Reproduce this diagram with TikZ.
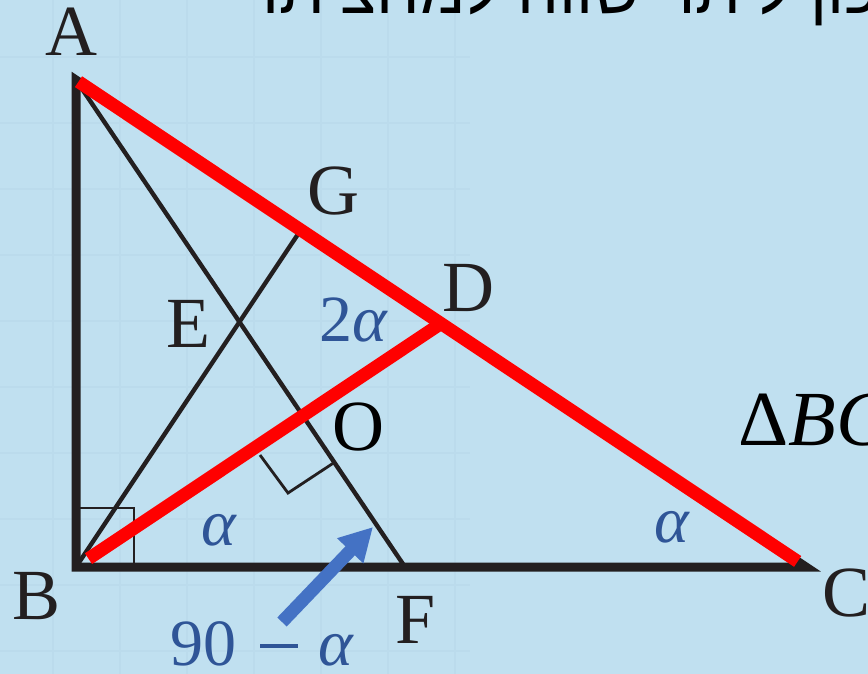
\RequirePackage{fix-cm}
\documentclass[tikz,border=0pt]{standalone}
\usepackage{fontspec}
\setmainfont{Liberation Serif}
\newfontfamily\hebfont[Script=Hebrew]{Liberation Sans}
\TeXXeTstate=1
\usetikzlibrary{arrows.meta,calc}
\definecolor{bgblue}{RGB}{192,224,240}
\definecolor{gridc}{RGB}{187,219,236}
\definecolor{inkc}{RGB}{35,31,32}
\definecolor{redc}{RGB}{255,0,0}
\definecolor{labblue}{RGB}{47,85,151}
\definecolor{arrblue}{RGB}{68,114,196}
\tikzset{
  thickline/.style={draw=inkc,line width=9pt,line join=miter},
  thinline/.style={draw=inkc,line width=4.4pt},
  markline/.style={draw=inkc,line width=2.8pt},
  redline/.style={draw=redc,line width=13pt},
  ptlabel/.style={inner sep=0pt,text=inkc,font=\fontsize{72}{80}\selectfont},
  anglab/.style={inner sep=0pt,text=labblue,font=\fontsize{66}{72}\selectfont},
  gridline/.style={draw=gridc,line width=1.6pt},
}
\begin{document}
\begin{tikzpicture}[x=1pt,y=-1pt]
\useasboundingbox (0,0) rectangle (868,674);
\clip (0,0) rectangle (868,674);
\fill[bgblue] (0,0) rectangle (868,674);
% faint grid on the left part
\foreach \gx in {53,120,187,254,321,388,455}
  \draw[gridline] (\gx,0) -- (\gx,674);
\foreach \gy in {57,123,189,255,321,387,453,519,585,651}
  \draw[gridline] (0,\gy) -- (470,\gy);

% points
\coordinate (A) at (76,80);
\coordinate (B) at (76,567);
\coordinate (C) at (806,567);
\coordinate (F) at (405,567);
\coordinate (D) at ($(A)!0.5!(C)$);
\coordinate (G) at ($(A)!(B)!(C)$);
\coordinate (O) at (intersection of A--F and B--D);
\coordinate (E) at (intersection of A--F and B--G);

% black figure
\draw[thickline] (A) -- (B) -- (C) -- cycle;
\draw[thinline] (A) -- (F);
\draw[thinline] (B) -- (G);
\draw[markline] (B) rectangle ++(58,-59);
\draw[markline] (260,455) -- (288,493) -- (335,462);

% red segments
\draw[redline, shorten <=15pt] (B) -- (D);
\draw[redline, shorten <=3pt, shorten >=10pt] (A) -- (C);

% point labels
\node[ptlabel] (lA) at (71,32) {A};
\node[ptlabel] (lG) at (333,191) {G};
\node[ptlabel] (lD) at (468,288) {D};
\node[ptlabel] (lE) at (188,324) {E};
\node[ptlabel,text=black] (lO) at (358,427) {O};
\node[ptlabel] (lB) at (37,596) {B};
\node[ptlabel] (lF) at (416,620) {F};
\node[ptlabel] (lC) at (847,593) {C};

% angle labels
\node[anglab] (a2) at (354,320) {2\textit{α}};
\node[anglab] (a1) at (219,530) {\textit{α}};
\node[anglab] (a3) at (672,527) {\textit{α}};
\node[anglab,anchor=base west] (a4) at (170,665) {90\hspace{24pt}\rule[17pt]{38pt}{4pt}\hspace{20pt}\textit{α}};

% blue arrow
\coordinate (arT) at (282,622);
\coordinate (arH) at (373,527);
\draw[draw=arrblue, line width=13pt, -{Triangle[length=33pt,width=34pt]}] (arT) -- (arH);

% cut-off texts
\node[anchor=base west,inner sep=0pt,font=\fontsize{78}{86}\selectfont] (tri) at (738,445) {Δ\textit{BC}};
\node[anchor=base west,inner sep=0pt,font=\hebfont\fontsize{66}{72}\selectfont] (heb) at (262,14) {\beginR התיכון ליתר שווה למחציתו\endR};
\end{tikzpicture}
\end{document}
